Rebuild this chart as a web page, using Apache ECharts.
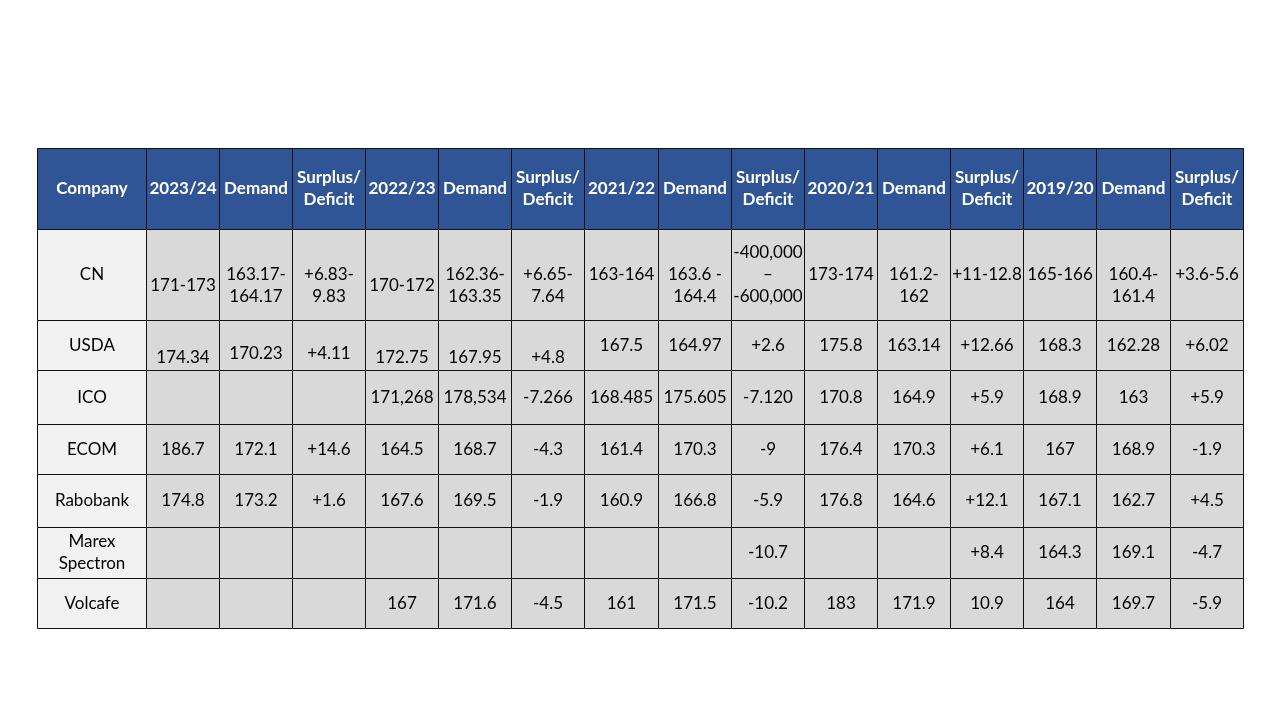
<!DOCTYPE html>
<html>
<head>
<meta charset="utf-8">
<script src="https://cdn.jsdelivr.net/npm/echarts@6/dist/echarts.min.js"></script>
<style>
html,body{margin:0;padding:0;background:#fff;}
#chart{width:1280px;height:720px;}
</style>
</head>
<body>
<div id="chart"></div>
<script>
// ---- data ----
const headers = ['Company','2023/24','Demand','Surplus/\nDeficit','2022/23','Demand','Surplus/\nDeficit','2021/22','Demand','Surplus/\nDeficit','2020/21','Demand','Surplus/\nDeficit','2019/20','Demand','Surplus/\nDeficit'];
const companies = ['CN','USDA','ICO','ECOM','Rabobank','Marex\nSpectron','Volcafe'];
const cn = ['171-173','163.17-\n164.17','+6.83-\n9.83','170-172','162.36-\n163.35','+6.65-\n7.64','163-164','163.6 -\n164.4','-400,000\n–\n-600,000','173-174','161.2-\n162','+11-12.8','165-166','160.4-\n161.4','+3.6-5.6'];
const usda = ['174.34','170.23','+4.11','172.75','167.95','+4.8','167.5','164.97','+2.6','175.8','163.14','+12.66','168.3','162.28','+6.02'];
const ico = ['','','','171,268','178,534','-7.266','168.485','175.605','-7.120','170.8','164.9','+5.9','168.9','163','+5.9'];
const ecom = ['186.7','172.1','+14.6','164.5','168.7','-4.3','161.4','170.3','-9','176.4','170.3','+6.1','167','168.9','-1.9'];
const rabobank = ['174.8','173.2','+1.6','167.6','169.5','-1.9','160.9','166.8','-5.9','176.8','164.6','+12.1','167.1','162.7','+4.5'];
const marex = ['','','','','','','','','-10.7','','','+8.4','164.3','169.1','-4.7'];
const volcafe = ['','','','167','171.6','-4.5','161','171.5','-10.2','183','171.9','10.9','164','169.7','-5.9'];
const bodyRows = [cn, usda, ico, ecom, rabobank, marex, volcafe];

// ---- layout (sizes / text shifts) ----
const colWidths = [109,73,73,73,73,73,73,74,73,73,73,73,73,73,74,73];
const rowHeights = [81,91,50,54,50,53,51,50];
const shiftCN = [11,11,11,11,11,11,0,11,0,0,11,0,0,11,0];
const shiftUSDA = [12,8,8,12,12,12,0,0,0,0,0,0,0,0,0];
const shifts = {1: shiftCN, 2: shiftUSDA};

const totalW = colWidths.reduce((a,b)=>a+b,0);
const totalH = rowHeights.reduce((a,b)=>a+b,0);

const cells = [];
let y = 0;
for (let r = 0; r < rowHeights.length; r++) {
  let x = 0;
  for (let c = 0; c < colWidths.length; c++) {
    cells.push([x, x + colWidths[c], y, y + rowHeights[r], r, c]);
    x += colWidths[c];
  }
  y += rowHeights[r];
}

function cellText(r, c) {
  if (r === 0) return headers[c];
  if (c === 0) return companies[r - 1];
  return bodyRows[r - 1][c - 1];
}

const chart = echarts.init(document.getElementById('chart'));
chart.setOption({
  backgroundColor: '#ffffff',
  animation: false,
  grid: {left: 37, top: 148, width: totalW, height: totalH},
  xAxis: {type: 'value', min: 0, max: totalW, show: false},
  yAxis: {type: 'value', min: 0, max: totalH, inverse: true, show: false},
  series: [{
    type: 'custom',
    encode: {x: [0, 1], y: [2, 3]},
    data: cells,
    renderItem: function (params, api) {
      const a = api.coord([api.value(0), api.value(2)]);
      const b = api.coord([api.value(1), api.value(3)]);
      const r = api.value(4), c = api.value(5);
      const x0 = Math.round(Math.min(a[0], b[0])) + 0.5;
      const x1 = Math.round(Math.max(a[0], b[0])) + 0.5;
      const y0 = Math.round(Math.min(a[1], b[1])) + 0.5;
      const y1 = Math.round(Math.max(a[1], b[1])) + 0.5;
      let fill = '#D9D9D9';
      if (r === 0) fill = '#2F5597';
      else if (c === 0) fill = '#F2F2F2';
      const header = r === 0;
      const dy = (shifts[r] && c > 0) ? shifts[r][c - 1] : 0;
      return {
        type: 'group',
        children: [
          {type: 'rect', shape: {x: x0, y: y0, width: x1 - x0, height: y1 - y0},
           style: {fill: fill, stroke: '#111111', lineWidth: 1}},
          {type: 'text', x: (x0 + x1) / 2, y: (y0 + y1) / 2 + dy,
           style: {text: cellText(r, c), align: 'center', verticalAlign: 'middle',
                   fill: header ? '#ffffff' : '#000000',
                   font: header ? 'bold 17px Lato, sans-serif' : '17px Lato, sans-serif',
                   lineHeight: 22}}
        ]
      };
    }
  }]
});
</script>
</body>
</html>
